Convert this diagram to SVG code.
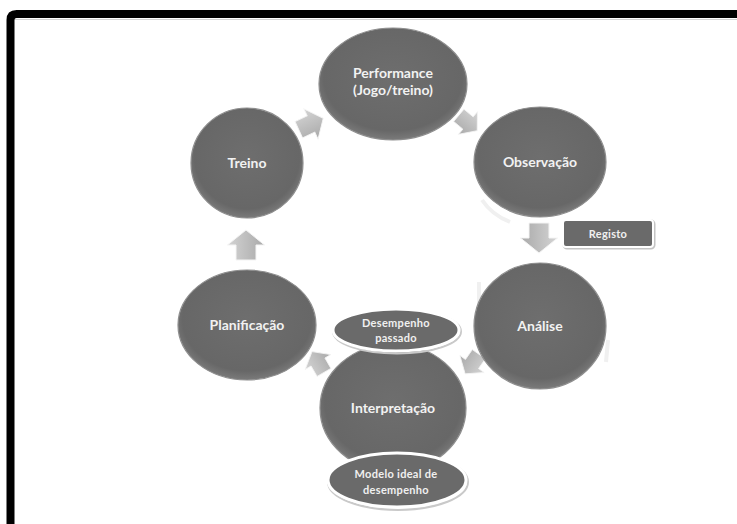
<svg xmlns="http://www.w3.org/2000/svg" xmlns:xlink="http://www.w3.org/1999/xlink" width="737" height="524" viewBox="0 0 737 524">
<defs>
<radialGradient id="nodeFill" cx="50%" cy="45%" r="55%">
<stop offset="0" stop-color="#6e6e6e"/>
<stop offset="0.85" stop-color="#676767"/>
<stop offset="1" stop-color="#7a7a7a"/>
</radialGradient>
<linearGradient id="arrowFill" x1="0" y1="0" x2="0" y2="1">
<stop offset="0" stop-color="#d4d4d4"/>
<stop offset="1" stop-color="#a9a9a9"/>
</linearGradient>
<path id="blockArrow" d="M-15,-10 L0,-10 L0,-18.5 L15,0 L0,18.5 L0,10 L-15,10 Z"/>
</defs>
<style>
.node{fill:url(#nodeFill);stroke:#8e8e8e;stroke-width:1.2}
.sub{fill:#6a6a6a;stroke:#ffffff;stroke-width:3}
.subShadow{fill:none;stroke:#c9c9c9;stroke-width:2}
.lbl{font-family:Lato,"Open Sans","Liberation Sans",sans-serif;font-weight:700;font-size:14px;fill:#f2f2f2;text-anchor:middle}
.small{font-family:Lato,"Open Sans","Liberation Sans",sans-serif;font-weight:700;font-size:11px;fill:#f0f0f0;text-anchor:middle;letter-spacing:0.3px}
.arr{fill:url(#arrowFill);stroke:#f4f4f4;stroke-width:1}
.faint{fill:none;stroke:#f0f0f0;stroke-width:4}
</style>
<rect x="0" y="0" width="737" height="524" fill="#ffffff"/>
<path d="M10.5,524 L10.5,20 Q10.5,14 16.5,14 L737,14" fill="none" stroke="#000" stroke-width="8"/>
<line x1="15" y1="19.5" x2="737" y2="19.5" stroke="#c8c8c8" stroke-width="0.8"/>

<g id="faint-reflections">
<path class="faint" d="M482,200 Q492,215 510,222"/>
<path class="faint" d="M479,282 L479,305"/>
<path class="faint" d="M608,340 L606,362"/>
</g>

<g id="connectors">
<use xlink:href="#blockArrow" class="arr" transform="translate(311,124) rotate(-25) scale(0.9)"/>
<use xlink:href="#blockArrow" class="arr" transform="translate(468,123) rotate(40) scale(0.8)"/>
<use xlink:href="#blockArrow" class="arr" transform="translate(539,238) rotate(90)"/>
<use xlink:href="#blockArrow" class="arr" transform="translate(472,364) rotate(125) scale(0.8)"/>
<use xlink:href="#blockArrow" class="arr" transform="translate(318,362) rotate(-120) scale(0.8)"/>
<use xlink:href="#blockArrow" class="arr" transform="translate(246,245) rotate(-90)"/>
</g>

<g id="performance">
<ellipse class="node" cx="393" cy="84" rx="74" ry="56"/>
<text class="lbl" x="393" y="78">Performance</text>
<text class="lbl" x="393" y="95">(Jogo/treino)</text>
</g>

<g id="observacao">
<ellipse class="node" cx="540" cy="162" rx="66" ry="55"/>
<text class="lbl" x="540" y="167">Observação</text>
</g>

<g id="registo">
<rect x="564" y="221" width="90" height="27" rx="3" fill="none" stroke="#c4c4c4" stroke-width="3"/>
<rect x="563" y="220" width="90" height="27" rx="3" fill="#6a6a6a" stroke="#ffffff" stroke-width="2"/>
<text class="small" x="608" y="238">Registo</text>
</g>

<g id="analise">
<ellipse class="node" cx="540" cy="326" rx="66" ry="63"/>
<text class="lbl" x="540" y="331">Análise</text>
</g>

<g id="interpretacao">
<ellipse class="node" cx="393" cy="408" rx="73" ry="64"/>
<text class="lbl" x="393" y="413">Interpretação</text>
</g>

<g id="desempenho-passado">
<ellipse class="subShadow" cx="397" cy="331.5" rx="64" ry="22"/>
<ellipse class="sub" cx="396" cy="330" rx="63" ry="21"/>
<text class="small" x="396" y="327">Desempenho</text>
<text class="small" x="396" y="342">passado</text>
</g>

<g id="modelo-ideal">
<ellipse class="subShadow" cx="398" cy="482" rx="70" ry="28"/>
<ellipse class="sub" cx="397" cy="480" rx="69" ry="27"/>
<text class="small" x="396" y="478">Modelo ideal de</text>
<text class="small" x="396" y="494">desempenho</text>
</g>

<g id="planificacao">
<ellipse class="node" cx="247" cy="325" rx="69" ry="55"/>
<text class="lbl" x="247" y="330">Planificação</text>
</g>

<g id="treino">
<ellipse class="node" cx="247" cy="163" rx="56" ry="55"/>
<text class="lbl" x="247" y="168">Treino</text>
</g>
</svg>
